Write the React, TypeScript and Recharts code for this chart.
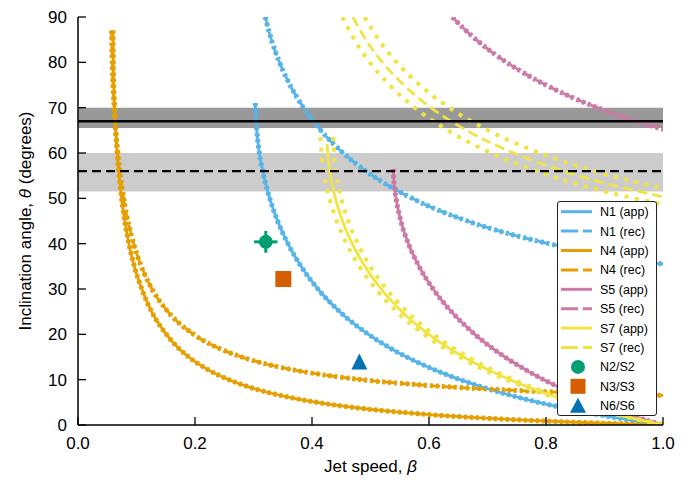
import React from 'react';
import {
  ComposedChart,
  Line,
  Scatter,
  XAxis,
  YAxis,
  ReferenceArea,
  ReferenceLine,
  Legend,
  ErrorBar,
  Label,
} from 'recharts';

const FONT = '"Liberation Sans", Arial, Helvetica, sans-serif';

const X_TICKS = [0, 0.2, 0.4, 0.6, 0.8, 1.0];
const Y_TICKS = [0, 10, 20, 30, 40, 50, 60, 70, 80, 90];

// [beta, theta]
const N1_APP: [number, number][] = [
  [0.303, 71], [0.304, 68], [0.3056, 65], [0.31, 60], [0.3175, 55], [0.3277, 50], [0.3412, 45],
  [0.3588, 40], [0.3813, 35], [0.4101, 30], [0.4474, 25], [0.4963, 20], [0.5331, 17], [0.5618, 15],
  [0.6127, 12], [0.6532, 10], [0.7003, 8], [0.7557, 6], [0.8217, 4], [0.9016, 2], [0.948, 1], [1.0, 0],
];
const N1_REC: [number, number][] = [
  [0.32, 90], [0.3305, 85], [0.3444, 80], [0.3624, 75], [0.3854, 70], [0.415, 65], [0.4533, 60],
  [0.5035, 55], [0.5711, 50], [0.6656, 45], [0.742, 42], [0.8046, 40], [0.8803, 38], [0.973, 36], [1.0, 35.5],
];
const N4_APP: [number, number][] = [
  [0.0599, 87], [0.0603, 80], [0.0625, 70], [0.067, 60], [0.0746, 50], [0.087, 40], [0.0963, 35],
  [0.109, 30], [0.1258, 25], [0.151, 20], [0.1715, 17], [0.1894, 15], [0.225, 12], [0.258, 10],
  [0.302, 8], [0.3654, 6], [0.408, 5], [0.4626, 4], [0.535, 3], [0.632, 2], [0.696, 1.5],
  [0.774, 1], [0.873, 0.5], [1.0, 0],
];
const N4_REC: [number, number][] = [
  [0.0573, 87], [0.0585, 80], [0.0619, 70], [0.0681, 60], [0.0781, 50], [0.0951, 40], [0.1082, 35],
  [0.1265, 30], [0.1537, 25], [0.1976, 20], [0.2396, 17], [0.2798, 15], [0.3363, 13], [0.3748, 12],
  [0.4229, 11], [0.4851, 10], [0.5694, 9], [0.6884, 8], [0.77, 7.5], [0.873, 7], [0.922, 6.8], [1.0, 6.52],
];
const S5_APP: [number, number][] = [
  [0.5392, 56.5], [0.5395, 55], [0.5414, 52], [0.5436, 50], [0.5519, 45], [0.5648, 40], [0.5829, 35],
  [0.607, 30], [0.6383, 25], [0.6784, 20], [0.7298, 15], [0.7675, 12], [0.7961, 10], [0.828, 8],
  [0.8637, 6], [0.9037, 4], [0.9489, 2], [1.0, 0],
];
const S5_REC: [number, number][] = [
  [0.64, 90], [0.655, 88], [0.6806, 85], [0.7102, 82], [0.7325, 80], [0.7574, 78], [0.7997, 75],
  [0.8496, 72], [0.8879, 70], [0.9309, 68], [0.9798, 66], [1.0, 65.2],
];
const S7_APP: [number, number][] = [
  [0.4259, 62], [0.4269, 60], [0.4317, 55], [0.44, 50], [0.4522, 45], [0.4687, 40], [0.4903, 35],
  [0.5182, 30], [0.5538, 25], [0.5997, 20], [0.6594, 15], [0.704, 12], [0.7384, 10], [0.7774, 8],
  [0.8218, 6], [0.8725, 4], [0.9314, 2], [1.0, 0],
];
const S7_APP_LO: [number, number][] = [
  [0.4145, 63.5], [0.4161, 60], [0.4212, 55], [0.4299, 50], [0.4423, 45], [0.459, 40], [0.4808, 35],
  [0.509, 30], [0.5449, 25], [0.5912, 20], [0.6516, 15], [0.7319, 10], [0.8169, 6], [0.898, 3], [1.0, 0],
];
const S7_APP_HI: [number, number][] = [
  [0.4365, 63.5], [0.4375, 60], [0.442, 55], [0.45, 50], [0.4619, 45], [0.4782, 40], [0.4995, 35],
  [0.5272, 30], [0.5625, 25], [0.6079, 20], [0.6668, 15], [0.7448, 10], [0.8265, 6], [0.9038, 3], [1.0, 0],
];
const S7_REC: [number, number][] = [
  [0.47, 90], [0.4825, 87], [0.4971, 84], [0.5204, 80], [0.5567, 75], [0.6033, 70], [0.6641, 65],
  [0.7448, 60], [0.8301, 56], [0.9112, 53], [0.9765, 51], [1.0, 50.3],
];
const S7_REC_LO: [number, number][] = [
  [0.452, 90], [0.4724, 85], [0.4987, 80], [0.5325, 75], [0.5757, 70], [0.6319, 65], [0.7063, 60],
  [0.7845, 56], [0.8868, 52], [0.9506, 50], [1.0, 48.65],
];
const S7_REC_HI: [number, number][] = [
  [0.49, 90], [0.5139, 85], [0.5446, 80], [0.584, 75], [0.6346, 70], [0.7008, 65], [0.789, 60],
  [0.857, 57], [0.9106, 55], [0.9728, 53], [1.0, 52.2],
];

// markers: [beta, theta, beta error, theta error]
const N2_S2: [number, number, number, number][] = [[0.321, 40.4, 0.02, 2.4]];
const N3_S3: [number, number, number, number][] = [[0.351, 32.2, 0, 0]];
const N6_S6: [number, number, number, number][] = [[0.481, 13.8, 0, 0]];

// horizontal constraints
const BAND_DARK = [65.5, 70];
const LINE_SOLID = 67;
const BAND_LIGHT = [51.5, 60];
const LINE_DASHED = 56;

const C_N1 = '#56B4E9';
const C_N4 = '#E69F00';
const C_S5 = '#CC79A7';
const C_S7 = '#F0E442';
const C_G = '#009E73';
const C_R = '#D55E00';
const C_B = '#0072B2';

const pts = (a: [number, number][]) => a.map(([b, t]) => ({ b, t }));
const mpts = (a: [number, number, number, number][]) => a.map(([b, t, eb, et]) => ({ b, t, eb, et }));

const DASH = '10 5';

const BEADED = [
  { key: 'n1a', data: N1_APP, color: C_N1, dash: undefined },
  { key: 'n1r', data: N1_REC, color: C_N1, dash: DASH },
  { key: 'n4a', data: N4_APP, color: C_N4, dash: undefined },
  { key: 'n4r', data: N4_REC, color: C_N4, dash: DASH },
  { key: 's5a', data: S5_APP, color: C_S5, dash: undefined },
  { key: 's5r', data: S5_REC, color: C_S5, dash: DASH },
];
const BOUNDS = [S7_APP_LO, S7_APP_HI, S7_REC_LO, S7_REC_HI];

const LEGEND = [
  { name: 'N1 (app)', color: C_N1, kind: 'solid' },
  { name: 'N1 (rec)', color: C_N1, kind: 'dash' },
  { name: 'N4 (app)', color: C_N4, kind: 'solid' },
  { name: 'N4 (rec)', color: C_N4, kind: 'dash' },
  { name: 'S5 (app)', color: C_S5, kind: 'solid' },
  { name: 'S5 (rec)', color: C_S5, kind: 'dash' },
  { name: 'S7 (app)', color: C_S7, kind: 'solid' },
  { name: 'S7 (rec)', color: C_S7, kind: 'dash' },
  { name: 'N2/S2', color: C_G, kind: 'circle' },
  { name: 'N3/S3', color: C_R, kind: 'square' },
  { name: 'N6/S6', color: C_B, kind: 'triangle' },
];

const TICK_FONT = 17;

const BottomTick = (p: any) => (
  <g>
    <line x1={p.x} x2={p.x} y1={p.y} y2={p.y - 8} stroke="#000" strokeWidth={1.3} />
    <text x={p.x} y={p.y + 24} textAnchor="middle" fontSize={TICK_FONT} fill="#000" fontFamily={FONT}>
      {Number(p.payload.value).toFixed(1)}
    </text>
  </g>
);
const TopTick = (p: any) => (
  <line x1={p.x} x2={p.x} y1={p.y} y2={p.y + 8} stroke="#000" strokeWidth={1.3} />
);
const LeftTick = (p: any) => (
  <g>
    <line x1={p.x} x2={p.x + 8} y1={p.y} y2={p.y} stroke="#000" strokeWidth={1.3} />
    <text x={p.x - 11} y={p.y + 6} textAnchor="end" fontSize={TICK_FONT} fill="#000" fontFamily={FONT}>
      {p.payload.value}
    </text>
  </g>
);
const RightTick = (p: any) => (
  <line x1={p.x} x2={p.x - 8} y1={p.y} y2={p.y} stroke="#000" strokeWidth={1.3} />
);

const XTitle = (p: any) => {
  const vb = p.viewBox || { x: 78, y: 425, width: 585 };
  return (
    <text x={vb.x + vb.width / 2} y={vb.y + 47} textAnchor="middle" fontSize={17} fill="#000" fontFamily={FONT}>
      Jet speed, <tspan fontStyle="italic">β</tspan>
    </text>
  );
};
const YTitle = (p: any) => {
  const vb = p.viewBox || { x: 0, y: 17, width: 78, height: 408 };
  const cx = 31;
  const cy = vb.y + vb.height / 2;
  return (
    <text x={cx} y={cy} transform={`rotate(-90 ${cx} ${cy})`} textAnchor="middle" fontSize={17} fill="#000" fontFamily={FONT}>
      Inclination angle, <tspan fontStyle="italic">θ</tspan> (degrees)
    </text>
  );
};

const circleShape = (p: any) => <circle cx={p.cx} cy={p.cy} r={7} fill={C_G} />;
const squareShape = (p: any) => <rect x={p.cx - 8} y={p.cy - 8} width={16} height={16} fill={C_R} />;
const triShape = (p: any) => (
  <path d={`M${p.cx},${p.cy - 9} L${p.cx + 8},${p.cy + 7} L${p.cx - 8},${p.cy + 7} Z`} fill={C_B} />
);

const LegendBox = () => (
  <div
    style={{
      width: 100,
      height: 215,
      boxSizing: 'border-box',
      border: '1px solid #222',
      borderRadius: 3,
      background: '#fff',
    }}
  >
    <svg width={98} height={213} style={{ display: 'block' }}>
      {LEGEND.map((it, i) => {
        const cy = 9.7 + i * 19.4;
        let icon: React.ReactNode = null;
        if (it.kind === 'solid') {
          icon = <line x1={3} x2={34} y1={cy} y2={cy} stroke={it.color} strokeWidth={3} />;
        } else if (it.kind === 'dash') {
          icon = <line x1={3} x2={34} y1={cy} y2={cy} stroke={it.color} strokeWidth={3} strokeDasharray="17 5" />;
        } else if (it.kind === 'circle') {
          icon = <circle cx={20} cy={cy} r={7} fill={it.color} />;
        } else if (it.kind === 'square') {
          icon = <rect x={12.5} y={cy - 7.5} width={15} height={15} fill={it.color} />;
        } else {
          icon = <path d={`M20,${cy - 8} L28,${cy + 7} L12,${cy + 7} Z`} fill={it.color} />;
        }
        return (
          <g key={it.name}>
            {icon}
            <text x={42} y={cy + 4.5} fontSize={12.5} fill="#000" fontFamily={FONT}>
              {it.name}
            </text>
          </g>
        );
      })}
    </svg>
  </div>
);

export default function App() {
  return (
    <div style={{ position: 'absolute', left: 0, top: 0, width: 688, height: 482, background: '#fff' }}>
      <ComposedChart width={688} height={482} margin={{ top: 17, right: 25, bottom: 0, left: 0 }} style={{ fontFamily: FONT }}>
        <XAxis
          xAxisId="x"
          dataKey="b"
          type="number"
          domain={[0, 1]}
          ticks={X_TICKS}
          interval={0}
          allowDataOverflow
          height={57}
          tickSize={0}
          tickMargin={0}
          tickLine={false}
          axisLine={{ stroke: '#000', strokeWidth: 1.5 }}
          tick={BottomTick}
        >
          <Label content={XTitle} />
        </XAxis>
        <XAxis
          xAxisId="xt"
          orientation="top"
          dataKey="b"
          type="number"
          domain={[0, 1]}
          ticks={X_TICKS}
          interval={0}
          allowDataOverflow
          height={0}
          tickSize={0}
          tickMargin={0}
          tickLine={false}
          axisLine={{ stroke: '#000', strokeWidth: 1.5 }}
          tick={TopTick}
        />
        <YAxis
          yAxisId="y"
          dataKey="t"
          type="number"
          domain={[0, 90]}
          ticks={Y_TICKS}
          interval={0}
          allowDataOverflow
          width={78}
          tickSize={0}
          tickMargin={0}
          tickLine={false}
          axisLine={{ stroke: '#000', strokeWidth: 1.5 }}
          tick={LeftTick}
        >
          <Label content={YTitle} />
        </YAxis>
        <YAxis
          yAxisId="yr"
          orientation="right"
          dataKey="t"
          type="number"
          domain={[0, 90]}
          ticks={Y_TICKS}
          interval={0}
          allowDataOverflow
          width={0}
          tickSize={0}
          tickMargin={0}
          tickLine={false}
          axisLine={{ stroke: '#000', strokeWidth: 1.5 }}
          tick={RightTick}
        />

        <ReferenceArea xAxisId="x" yAxisId="y" y1={BAND_DARK[0]} y2={BAND_DARK[1]} fill="#999999" fillOpacity={1} stroke="none" />
        <ReferenceArea xAxisId="x" yAxisId="y" y1={BAND_LIGHT[0]} y2={BAND_LIGHT[1]} fill="#cccccc" fillOpacity={1} stroke="none" />

        {BEADED.map((c) => (
          <Line
            key={c.key + 'b'}
            xAxisId="x"
            yAxisId="y"
            data={pts(c.data)}
            dataKey="t"
            type="monotone"
            stroke={c.color}
            strokeWidth={5}
            strokeDasharray="3 3"
            dot={false}
            activeDot={false}
            legendType="none"
            isAnimationActive={false}
          />
        ))}
        {BEADED.map((c) => (
          <Line
            key={c.key}
            xAxisId="x"
            yAxisId="y"
            data={pts(c.data)}
            dataKey="t"
            type="monotone"
            stroke={c.color}
            strokeWidth={2.8}
            strokeDasharray={c.dash}
            dot={false}
            activeDot={false}
            legendType="none"
            isAnimationActive={false}
          />
        ))}
        {BOUNDS.map((d, i) => (
          <Line
            key={'bd' + i}
            xAxisId="x"
            yAxisId="y"
            data={pts(d)}
            dataKey="t"
            type="monotone"
            stroke={C_S7}
            strokeWidth={4}
            strokeDasharray="4 6.5"
            dot={false}
            activeDot={false}
            legendType="none"
            isAnimationActive={false}
          />
        ))}
        <Line
          xAxisId="x"
          yAxisId="y"
          data={pts(S7_APP)}
          dataKey="t"
          type="monotone"
          stroke={C_S7}
          strokeWidth={2.8}
          dot={false}
          activeDot={false}
          legendType="none"
          isAnimationActive={false}
        />
        <Line
          xAxisId="x"
          yAxisId="y"
          data={pts(S7_REC)}
          dataKey="t"
          type="monotone"
          stroke={C_S7}
          strokeWidth={2.8}
          strokeDasharray={DASH}
          dot={false}
          activeDot={false}
          legendType="none"
          isAnimationActive={false}
        />

        <ReferenceLine xAxisId="x" yAxisId="y" y={LINE_SOLID} stroke="#000" strokeWidth={2.4} />
        <ReferenceLine xAxisId="x" yAxisId="y" y={LINE_DASHED} stroke="#000" strokeWidth={2.4} strokeDasharray="9 5" />

        <Scatter xAxisId="x" yAxisId="y" data={mpts(N2_S2)} dataKey="t" shape={circleShape} legendType="none" isAnimationActive={false}>
          <ErrorBar dataKey="eb" direction="x" width={0} stroke={C_G} strokeWidth={3} />
          <ErrorBar dataKey="et" direction="y" width={0} stroke={C_G} strokeWidth={3} />
        </Scatter>
        <Scatter xAxisId="x" yAxisId="y" data={mpts(N3_S3)} dataKey="t" shape={squareShape} legendType="none" isAnimationActive={false} />
        <Scatter xAxisId="x" yAxisId="y" data={mpts(N6_S6)} dataKey="t" shape={triShape} legendType="none" isAnimationActive={false} />

        <Legend
          layout="vertical"
          align="center"
          verticalAlign="middle"
          wrapperStyle={{ left: 557, top: 201, width: 100, height: 215 }}
          content={() => <LegendBox />}
        />
      </ComposedChart>
    </div>
  );
}
